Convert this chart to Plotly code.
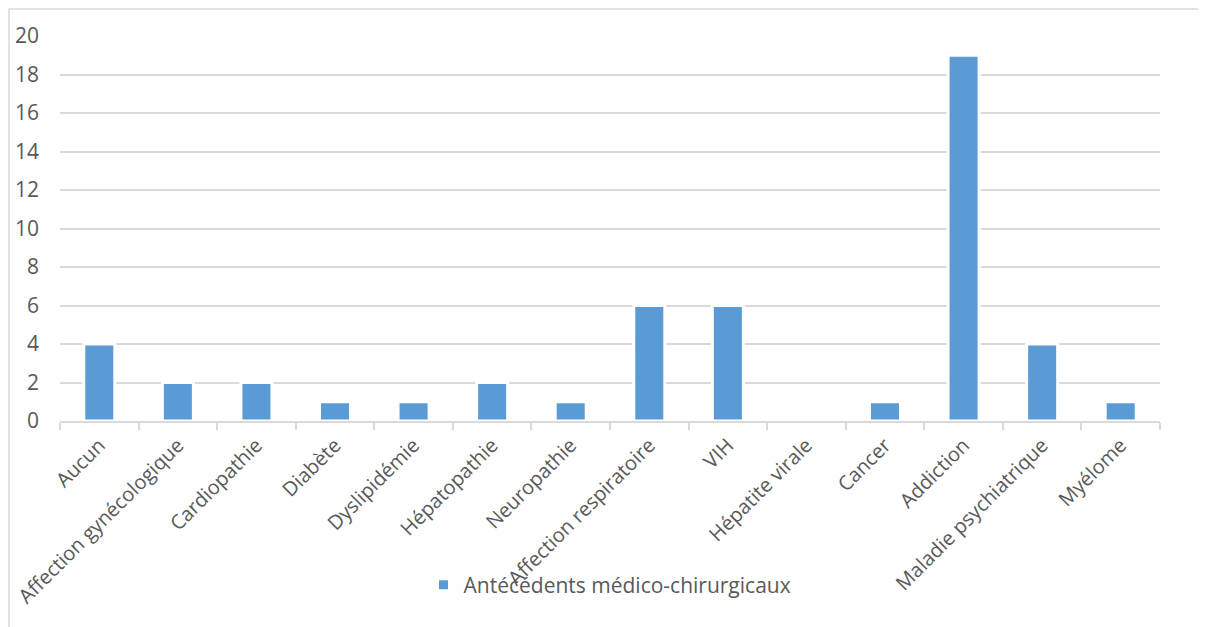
import plotly.graph_objects as go

categories = ["Aucun", "Affection gynécologique", "Cardiopathie", "Diabète", "Dyslipidémie",
              "Hépatopathie", "Neuropathie", "Affection respiratoire", "VIH", "Hépatite virale",
              "Cancer", "Addiction", "Maladie psychiatrique", "Myélome"]
values = [4, 2, 2, 1, 1, 2, 1, 6, 6, 0, 1, 19, 4, 1]
series_name = "Antécédents médico-chirurgicaux"
y_ticks = list(range(0, 21, 2))

fig = go.Figure()
fig.add_trace(go.Bar(
    x=categories, y=values, name=series_name,
    marker=dict(color="#5B9BD5", line=dict(color="white", width=3)),
    showlegend=True,
))

# page body has an 8px default margin
W, H = 1198, 619
L, T = 52, 28
pw, ph = 1100, 385
R, B = W - L - pw, H - T - ph

fig.update_layout(
    width=W, height=H,
    margin=dict(l=L, r=R, t=T, b=B, autoexpand=False),
    paper_bgcolor="white", plot_bgcolor="white",
    bargap=0.605,
    font=dict(family="Open Sans, Noto Sans, sans-serif", color="#595959", size=21),
    showlegend=True,
    legend=dict(orientation="h", x=0.5, xanchor="center", y=-(577 - (T + ph)) / ph, yanchor="middle",
                font=dict(size=21, color="#595959"), bgcolor="rgba(0,0,0,0)",
                itemwidth=30),
    xaxis=dict(
        type="category", showline=True, linecolor="#d9d9d9", linewidth=1.5,
        ticks="outside", tickson="boundaries", ticklen=7, tickcolor="#d9d9d9", tickwidth=1.5,
        tickangle=-45, showgrid=False, automargin=False, ticklabelstandoff=3,
        tickfont=dict(size=20, color="#595959"),
    ),
    yaxis=dict(
        range=[0, 20], tickvals=y_ticks, showgrid=True, gridcolor="#d9d9d9", gridwidth=1.5,
        zeroline=False, showline=False, ticks="", ticklabelstandoff=20, automargin=False,
        tickfont=dict(size=21, color="#595959"),
    ),
    shapes=[dict(type="rect", xref="paper", yref="paper",
                 x0=(1 - L) / pw, x1=(1192 - L) / pw,
                 y0=(T + ph - 640) / ph, y1=(T + ph - 1) / ph,
                 line=dict(color="#d9d9d9", width=1.5), fillcolor="rgba(0,0,0,0)", layer="below")],
)

fig.write_html("out.html")
